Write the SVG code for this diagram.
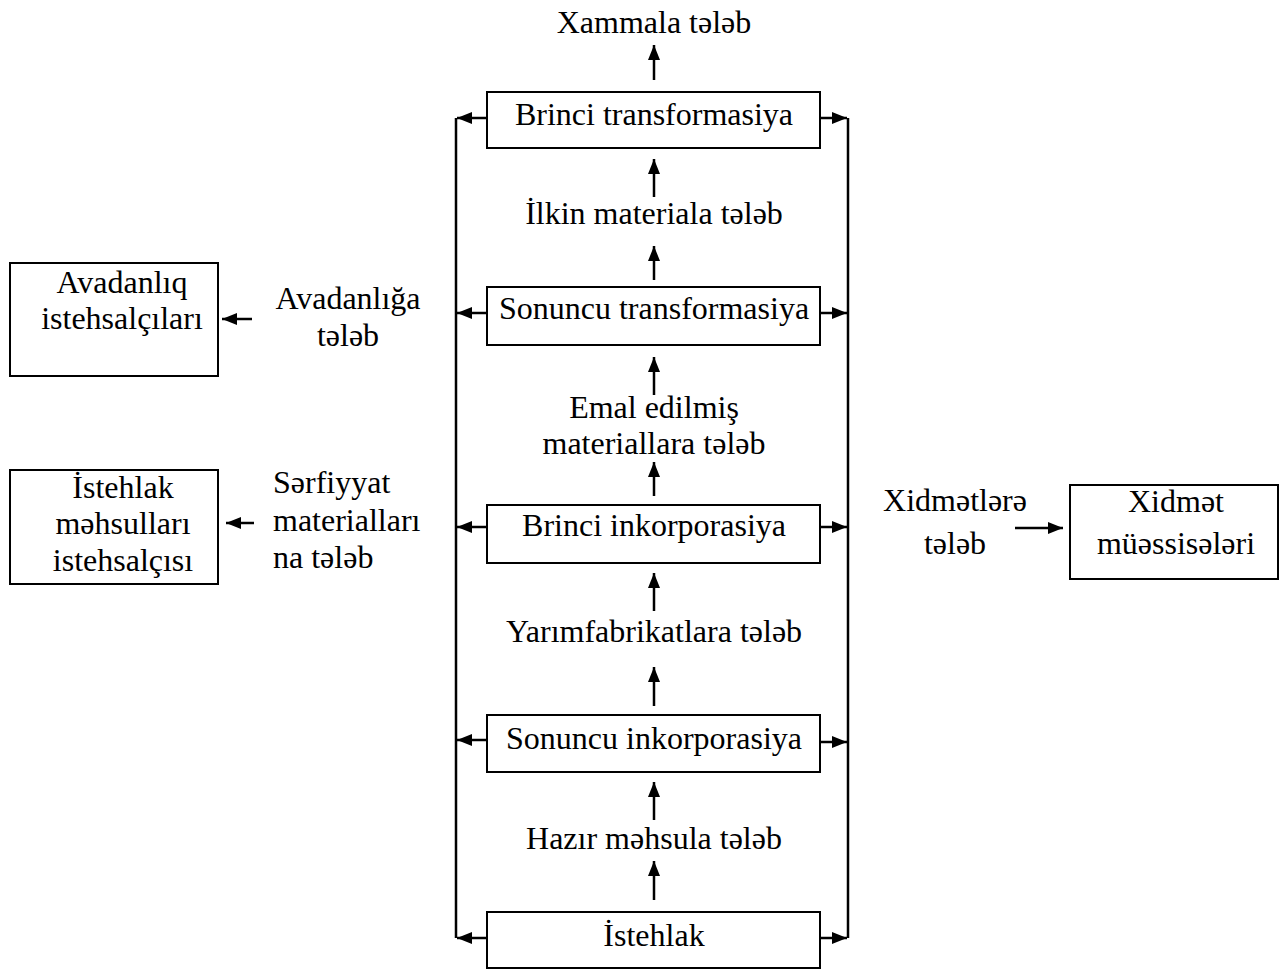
<svg xmlns="http://www.w3.org/2000/svg" width="1286" height="970" viewBox="0 0 1286 970">
<defs>
<marker id="ah" viewBox="0 0 15 12" refX="15" refY="6" markerWidth="15" markerHeight="12" markerUnits="userSpaceOnUse" orient="auto">
<path d="M0,0 L15,6 L0,12 z" fill="#000"/>
</marker>
<style>
text{font-family:"Liberation Serif","Times New Roman",serif;font-size:32px;fill:#000;text-anchor:middle}
.l{text-anchor:start}
rect{fill:#fff;stroke:#000;stroke-width:2}
.c line,.c path{stroke:#000;stroke-width:2.5;fill:none}
.a{marker-end:url(#ah)}
</style>
</defs>
<rect x="0" y="0" width="1286" height="970" style="stroke:none"/>
<g class="c" id="connectors">
<line x1="456" y1="118" x2="456" y2="938"/>
<line x1="848" y1="118" x2="848" y2="938"/>
<line class="a" x1="487" y1="118" x2="457" y2="118"/>
<line class="a" x1="487" y1="313" x2="457" y2="313"/>
<line class="a" x1="487" y1="527" x2="457" y2="527"/>
<line class="a" x1="487" y1="740" x2="457" y2="740"/>
<line class="a" x1="487" y1="938" x2="457" y2="938"/>
<line class="a" x1="820" y1="118" x2="847" y2="118"/>
<line class="a" x1="820" y1="313" x2="847" y2="313"/>
<line class="a" x1="820" y1="527" x2="847" y2="527"/>
<line class="a" x1="820" y1="742" x2="847" y2="742"/>
<line class="a" x1="820" y1="938" x2="847" y2="938"/>
<line class="a" x1="654" y1="80" x2="654" y2="45"/>
<line class="a" x1="654" y1="197" x2="654" y2="159"/>
<line class="a" x1="654" y1="280" x2="654" y2="246"/>
<line class="a" x1="654" y1="395" x2="654" y2="357"/>
<line class="a" x1="654" y1="496" x2="654" y2="462"/>
<line class="a" x1="654" y1="611" x2="654" y2="573"/>
<line class="a" x1="654" y1="706" x2="654" y2="667"/>
<line class="a" x1="654" y1="820" x2="654" y2="782"/>
<line class="a" x1="654" y1="900" x2="654" y2="861"/>
<line class="a" x1="252" y1="319" x2="222" y2="319"/>
<line class="a" x1="254" y1="523" x2="226" y2="523"/>
<line class="a" x1="1015" y1="528" x2="1063" y2="528"/>
</g>
<g id="labels">
<text x="654" y="33">Xammala tələb</text>
<text x="654" y="224">İlkin materiala tələb</text>
<text x="654" y="418">Emal edilmiş</text>
<text x="654" y="454">materiallara tələb</text>
<text x="654" y="642">Yarımfabrikatlara tələb</text>
<text x="654" y="849">Hazır məhsula tələb</text>
<text x="348" y="309">Avadanlığa</text>
<text x="348" y="346">tələb</text>
<text class="l" x="273" y="493">Sərfiyyat</text>
<text class="l" x="273" y="531">materialları</text>
<text class="l" x="273" y="568">na tələb</text>
<text x="955" y="511">Xidmətlərə</text>
<text x="955" y="554">tələb</text>
</g>
<g id="n1"><rect x="487" y="92" width="333" height="56"/><text x="654" y="125">Brinci transformasiya</text></g>
<g id="n2"><rect x="487" y="287" width="333" height="58"/><text x="654" y="319">Sonuncu transformasiya</text></g>
<g id="n3"><rect x="487" y="505" width="333" height="58"/><text x="654" y="536">Brinci inkorporasiya</text></g>
<g id="n4"><rect x="487" y="715" width="333" height="57"/><text x="654" y="749">Sonuncu inkorporasiya</text></g>
<g id="n5"><rect x="487" y="912" width="333" height="56"/><text x="654" y="946">İstehlak</text></g>
<g id="n6"><rect x="10" y="263" width="208" height="113"/><text x="122" y="293">Avadanlıq</text><text x="122" y="329">istehsalçıları</text></g>
<g id="n7"><rect x="10" y="470" width="208" height="114"/><text x="123" y="498">İstehlak</text><text x="123" y="534">məhsulları</text><text x="123" y="571">istehsalçısı</text></g>
<g id="n8"><rect x="1070" y="485" width="208" height="94"/><text x="1176" y="512">Xidmət</text><text x="1176" y="554">müəssisələri</text></g>
</svg>
